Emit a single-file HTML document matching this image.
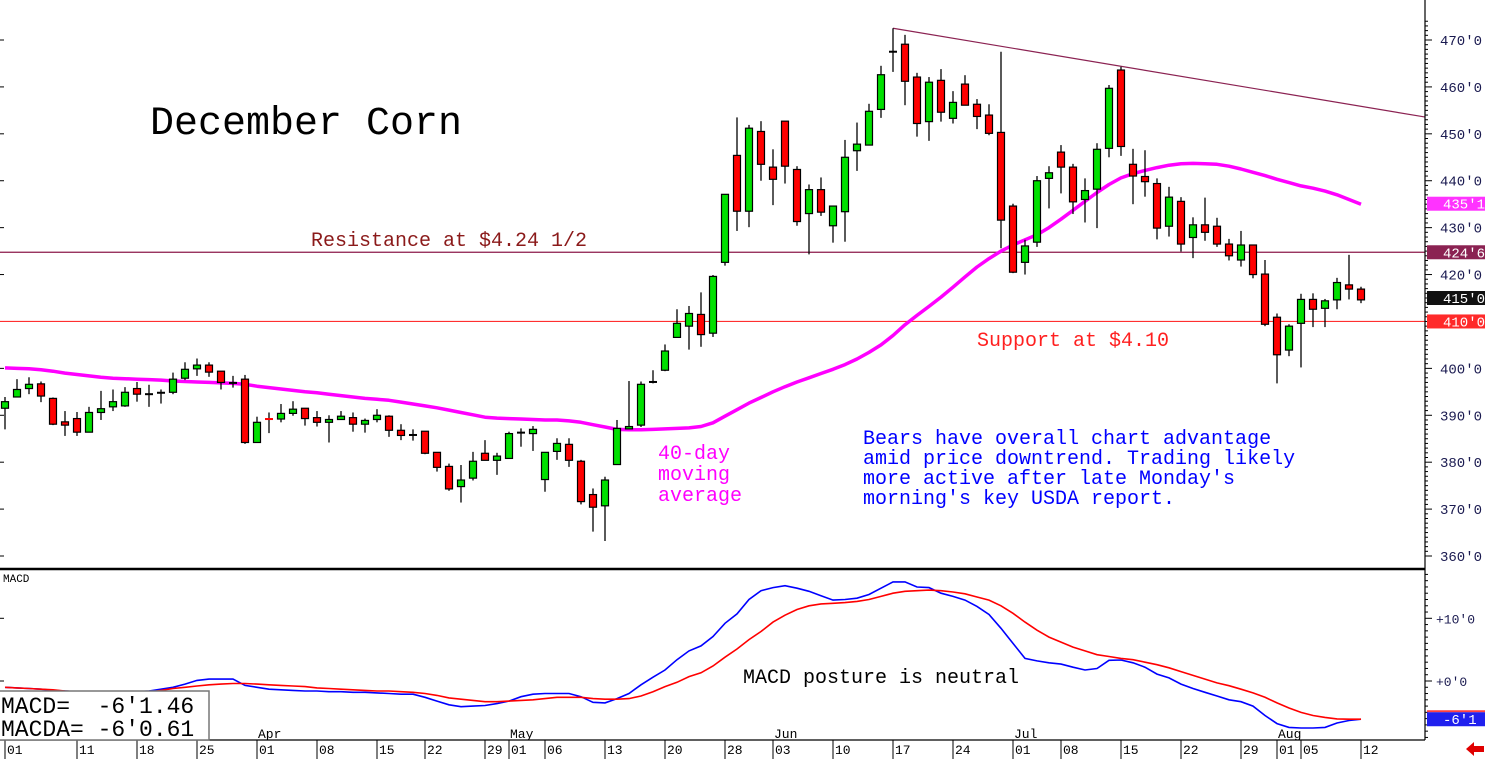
<!DOCTYPE html>
<html><head><meta charset="utf-8"><title>December Corn</title>
<style>
html,body{margin:0;padding:0;background:#fff;}
svg{display:block;}
text{font-family:"Liberation Mono","DejaVu Sans Mono",monospace;}
</style></head>
<body>
<svg id="chart" width="1487" height="759" viewBox="0 0 1487 759" xmlns="http://www.w3.org/2000/svg">
<rect x="0" y="0" width="1487" height="759" fill="#fff"/>
<g id="pricePanel"></g>
<g id="macdPanel"></g>
<g id="axes"></g>
<text x="150" y="134" font-size="40" fill="#000">December Corn</text>
<text x="311" y="246" font-size="20" fill="#8b1a1a">Resistance at $4.24 1/2</text>
<text x="977" y="346" font-size="20" fill="#ff2020">Support at $4.10</text>
<g font-size="20" fill="#ff00ff">
<text x="658" y="459">40-day</text><text x="658" y="480">moving</text><text x="658" y="501">average</text></g>
<g font-size="20" fill="#0000ff">
<text x="863" y="444">Bears have overall chart advantage</text>
<text x="863" y="464">amid price downtrend. Trading likely</text>
<text x="863" y="484">more active after late Monday's</text>
<text x="863" y="504">morning's key USDA report.</text></g>
<text x="743" y="683" font-size="20" fill="#000">MACD posture is neutral</text>
<text x="3" y="582" font-size="11" fill="#000">MACD</text>
<g>
<rect x="-1" y="691" width="210" height="49" fill="#fff" stroke="#777" stroke-width="1.5"/>
<text x="1" y="713" font-size="23" fill="#000" xml:space="preserve">MACD=  -6'1.46</text>
<text x="1" y="736" font-size="23" fill="#000">MACDA= -6'0.61</text></g>
<path d="M1466 749 L1474 742 L1474 746 L1484 746 L1484 752 L1474 752 L1474 756 Z" fill="#e00000"/>
</svg>
<script>
const opens=[391.5,393.9,395.7,396.7,393.6,388.6,389.3,386.4,390.6,391.8,392.0,395.7,394.5,394.8,394.9,397.9,399.9,400.7,399.4,396.9,397.7,384.2,389.3,389.2,390.4,391.5,389.5,388.5,389.1,389.5,388.1,389.1,389.8,386.8,385.8,386.6,382.1,379.1,374.8,376.6,381.9,380.4,380.8,386.3,386.1,376.3,382.3,383.8,380.2,373.1,370.7,379.5,387.1,387.9,397.1,399.6,406.6,409.0,411.5,407.5,422.6,445.4,433.5,450.5,442.9,452.7,442.4,433.0,438.1,430.4,433.4,446.4,447.6,455.2,467.5,469.1,462.1,452.6,461.4,453.3,460.6,456.3,454.0,450.3,434.6,422.6,426.9,440.5,446.1,442.9,436.0,438.2,446.9,463.6,443.5,440.9,439.4,430.3,435.6,427.9,430.6,430.3,426.5,423.1,426.3,420.1,410.9,403.9,409.6,414.7,412.8,414.6,417.8,416.9];
const highs=[393.9,397.7,398.1,397.2,393.8,390.9,390.7,391.8,395.2,395.5,396.0,397.1,396.5,395.5,399.1,401.3,402.1,401.3,399.4,398.4,398.6,389.7,390.6,392.4,393.0,391.5,390.9,390.0,390.9,390.6,389.3,391.3,390.0,388.1,387.0,386.6,382.1,379.7,379.4,382.2,384.7,382.0,386.5,387.2,387.7,382.1,385.1,385.1,380.5,374.4,376.9,389.0,397.3,397.2,399.6,405.1,412.6,413.3,416.2,419.9,437.1,453.5,451.9,452.7,446.7,452.7,443.1,439.2,440.7,434.7,448.7,452.4,456.4,464.5,472.5,471.1,463.0,462.1,463.8,459.1,462.5,457.4,456.3,467.5,435.1,427.4,441.0,443.1,447.6,443.6,440.5,448.0,460.4,464.3,446.8,446.5,440.5,438.7,436.5,432.2,436.4,432.1,427.6,429.3,426.3,423.1,411.7,409.4,415.9,416.0,414.8,419.3,424.2,417.4];
const lows=[387.0,393.9,394.5,392.8,387.9,385.6,385.6,386.4,389.0,390.9,391.8,392.9,391.8,392.5,394.5,397.5,398.4,398.2,395.5,395.9,383.9,384.2,386.2,388.5,389.9,387.8,387.6,384.2,389.1,386.5,386.3,388.5,385.4,384.7,384.6,381.7,378.0,373.9,371.4,376.1,380.4,377.3,380.8,383.3,382.4,373.7,380.5,379.0,371.0,365.2,363.2,379.5,387.1,387.5,396.8,399.4,406.6,404.0,404.6,406.7,421.9,429.3,430.1,440.0,434.8,439.4,430.4,424.3,432.5,426.8,427.0,442.1,447.6,453.4,463.2,456.1,449.4,448.5,452.6,452.2,456.1,451.0,449.7,425.6,420.3,420.0,425.9,434.1,437.3,432.9,431.1,429.9,445.0,445.3,435.0,436.6,427.5,428.1,424.9,423.5,427.2,425.9,423.0,421.7,419.2,409.0,396.8,402.6,400.2,408.8,408.8,412.6,414.7,413.9];
const closes=[392.9,395.5,396.6,394.1,388.1,387.9,386.4,390.6,391.4,392.9,394.9,394.5,394.5,394.8,397.7,399.8,400.7,399.2,397.0,396.9,384.2,388.5,389.1,390.4,391.3,389.3,388.5,389.1,389.8,388.1,388.9,390.0,386.8,385.7,385.8,381.9,378.9,374.3,376.2,380.2,380.4,381.3,386.1,386.3,387.0,382.1,384.0,380.4,371.6,370.4,376.2,387.2,387.6,396.6,397.1,403.7,409.6,411.7,407.2,419.6,437.1,433.5,451.2,443.5,440.3,443.1,431.3,438.1,433.3,434.6,445.0,447.8,454.8,462.6,467.5,461.2,452.2,461.0,454.6,456.7,456.1,453.7,450.1,431.6,420.5,426.1,440.0,441.7,442.9,435.5,437.9,446.7,459.7,447.3,441.0,439.8,429.9,436.5,426.5,430.6,429.0,426.5,424.0,426.3,420.0,409.4,402.9,409.0,414.7,412.6,414.4,418.3,416.9,414.6];
const ma40=[400.1,400.0,399.9,399.7,399.4,399.0,398.7,398.4,398.1,397.9,397.8,397.7,397.6,397.5,397.3,397.2,397.1,397.0,396.9,396.8,396.6,396.2,395.9,395.6,395.3,395.0,394.8,394.5,394.2,393.9,393.6,393.4,393.2,392.8,392.4,392.0,391.6,391.1,390.6,390.1,389.6,389.4,389.3,389.2,389.1,389.0,389.0,388.8,388.5,388.0,387.5,387.0,386.9,386.9,387.0,387.1,387.2,387.3,387.6,388.4,389.8,391.2,392.6,393.8,395.0,396.1,397.1,398.0,398.9,399.8,400.8,402.0,403.4,405.0,407.0,409.3,411.3,413.2,415.2,417.3,419.5,421.6,423.4,425.0,426.3,427.4,428.5,430.0,431.8,433.7,435.6,437.5,439.2,440.6,441.5,442.2,442.8,443.3,443.6,443.7,443.6,443.5,443.1,442.5,441.8,441.1,440.3,439.6,438.9,438.4,437.8,437.0,436.0,435.0];
const macdLine=[-1.0,-1.1,-1.2,-1.3,-1.5,-1.6,-1.7,-1.8,-1.8,-1.8,-1.8,-1.7,-1.6,-1.3,-1.0,-0.5,0.1,0.3,0.3,0.3,-0.7,-1.0,-1.3,-1.4,-1.5,-1.6,-1.6,-1.7,-1.7,-1.8,-1.8,-1.9,-2.0,-2.1,-2.1,-2.6,-3.2,-3.8,-4.1,-4.0,-3.9,-3.6,-3.2,-2.5,-2.1,-2.0,-2.0,-2.0,-2.5,-3.4,-3.5,-2.8,-2.0,-0.6,0.6,1.75,3.4,4.8,5.6,7.1,9.2,10.7,13.0,14.4,14.9,15.2,14.8,14.3,13.6,12.9,13.0,13.2,13.8,14.8,15.8,15.8,15.0,14.9,14.0,13.5,12.9,11.9,10.6,8.4,6.0,3.6,3.2,2.9,2.7,2.2,1.75,2.0,3.3,3.35,2.9,2.2,1.1,0.5,-0.5,-1.2,-1.8,-2.4,-3.0,-3.3,-4.0,-5.5,-6.8,-7.4,-7.5,-7.5,-7.4,-6.7,-6.3,-6.1];
const signalLine=[-1.0,-1.1,-1.2,-1.3,-1.4,-1.6,-1.7,-1.8,-1.9,-2.0,-2.0,-2.0,-1.8,-1.5,-1.2,-1.0,-0.8,-0.6,-0.5,-0.4,-0.4,-0.5,-0.6,-0.7,-0.8,-0.9,-1.1,-1.2,-1.3,-1.4,-1.5,-1.6,-1.6,-1.7,-1.8,-2.0,-2.3,-2.7,-2.9,-3.1,-3.3,-3.3,-3.2,-3.1,-3.0,-2.8,-2.6,-2.6,-2.6,-2.8,-2.9,-2.9,-2.8,-2.4,-1.7,-0.9,-0.2,0.7,1.3,2.4,3.8,5.1,6.6,7.9,9.4,10.5,11.4,12.0,12.3,12.4,12.5,12.7,13.0,13.5,14.0,14.3,14.4,14.5,14.4,14.2,13.9,13.4,12.9,12.0,10.8,9.4,8.1,7.0,6.2,5.4,4.8,4.2,3.9,3.6,3.4,3.0,2.6,2.1,1.5,0.9,0.3,-0.3,-0.75,-1.3,-1.9,-2.6,-3.5,-4.3,-5.0,-5.5,-5.8,-6.05,-6.1,-6.1];
const priceTicks=[470,460,450,440,430,420,400,390,380,370,360];
const priceTickLabels=["470'0","460'0","450'0","440'0","430'0","420'0","400'0","390'0","380'0","370'0","360'0"];
const macdTicks=[10,0];
const macdTickLabels=["+10'0","+0'0"];
const dateIdx=[0,6,11,16,21,26,31,35,40,42,45,50,55,60,64,69,74,79,84,88,93,98,103,106,108,113];
const dateLabels=["01","11","18","25","01","08","15","22","29","01","06","13","20","28","03","10","17","24","01","08","15","22","29","01","05","12"];
const monthIdx=[21,42,64,84,106];
const monthLabels=["Apr","May","Jun","Jul","Aug"];
const resistanceLevel=424.75, supportLevel=410.0, lastPrice=415.0, maLast=435.1, macdLast=-6.1;
const trendIdx=[74,118.3];
const trendPrice=[472.5,453.6];

const NS="http://www.w3.org/2000/svg";
const X=i=>5+12*i;
const Y=p=>40+(470-p)*4.691;
const YM=v=>681-v*6.27;
const AX=1425;
function mk(tag,attrs,parent){const e=document.createElementNS(NS,tag);for(const k in attrs)e.setAttribute(k,attrs[k]);parent.appendChild(e);return e;}
const pp=document.getElementById('pricePanel');
const mp=document.getElementById('macdPanel');
const ax=document.getElementById('axes');

let l=mk('line',{x1:0,x2:AX,y1:Y(resistanceLevel),y2:Y(resistanceLevel),stroke:'#8b1a4a','stroke-width':1.2},pp);


l=mk('line',{x1:0,x2:AX,y1:Y(supportLevel),y2:Y(supportLevel),stroke:'#ff3030','stroke-width':1.2},pp);


l=mk('line',{x1:X(trendIdx[0]),x2:X(trendIdx[1]),y1:Y(trendPrice[0]),y2:Y(trendPrice[1]),stroke:'#8b2252','stroke-width':1.2},pp);



let d=ma40.map((v,i)=>(i?'L':'M')+X(i)+' '+Y(v).toFixed(1)).join(' ');
l=mk('path',{d:d,fill:'none',stroke:'#ff00ff','stroke-width':3.5,'stroke-linejoin':'round'},pp);



for(let i=0;i<opens.length;i++){
  const g=mk('g',{},pp);
  
  
  const x=X(i),o=opens[i],c=closes[i],up=c>=o;
  mk('line',{x1:x,x2:x,y1:Y(highs[i]),y2:Y(lows[i]),stroke:'#000','stroke-width':1.3},g);
  const top=Y(Math.max(o,c)),bot=Y(Math.min(o,c));
  if(bot-top<2){
    mk('line',{x1:x-4,x2:x+4,y1:(top+bot)/2,y2:(top+bot)/2,stroke:Math.abs(c-o)<0.05?'#000':(up?'#00dd00':'#ff0000'),'stroke-width':2},g);
  } else {
    mk('rect',{x:x-3.5,y:top,width:7,height:bot-top,fill:up?'#00e000':'#ff0000',stroke:'#000','stroke-width':1.2},g);
  }
}

d=macdLine.map((v,i)=>(i?'L':'M')+X(i)+' '+YM(v).toFixed(1)).join(' ');
l=mk('path',{d:d,fill:'none',stroke:'#0000ff','stroke-width':1.6},mp);


d=signalLine.map((v,i)=>(i?'L':'M')+X(i)+' '+YM(v).toFixed(1)).join(' ');
l=mk('path',{d:d,fill:'none',stroke:'#ff0000','stroke-width':1.6},mp);



mk('line',{x1:AX,x2:AX,y1:0,y2:740,stroke:'#000','stroke-width':1.2},ax);
mk('line',{x1:0,x2:AX,y1:569,y2:569,stroke:'#000','stroke-width':2.5},ax);
mk('line',{x1:0,x2:AX,y1:740,y2:740,stroke:'#000','stroke-width':1.2},ax);
for(let p=360;p<=474;p+=1){const y=Y(p);if(y<2||y>566)continue;mk('line',{x1:AX,x2:AX+(p%10===0?7:3),y1:y,y2:y,stroke:'#000','stroke-width':1},ax);}
for(let k=0;k<priceTicks.length;k++){
  const y=Y(priceTicks[k]);
  mk('line',{x1:0,x2:4,y1:y,y2:y,stroke:'#000','stroke-width':1},ax);
  const t=mk('text',{x:1440,y:y+5,'font-size':14,fill:'#1a1a50'},ax);
  t.textContent=priceTickLabels[k];
  
  
}
for(let v=-9;v<=17;v+=1){const y=YM(v);if(y<572||y>738)continue;mk('line',{x1:AX,x2:AX+(v%10===0?7:3),y1:y,y2:y,stroke:'#000','stroke-width':1},ax);}
for(let k=0;k<macdTicks.length;k++){
  const y=YM(macdTicks[k]);
  mk('line',{x1:0,x2:4,y1:y,y2:y,stroke:'#000','stroke-width':1},ax);
  const t=mk('text',{x:1436,y:y+5,'font-size':13,fill:'#1a1a50'},ax);
  t.textContent=macdTickLabels[k];
  
  
}
function box(v,yf,fill,txt,name,tc){
  const g=mk('g',{},ax);
  
  
  const y=yf(v);
  mk('rect',{x:1427,y:y-7,width:58,height:14,fill:fill},g);
  const t=mk('text',{x:1443,y:y+5,'font-size':14,fill:tc||'#fff'},g);t.textContent=txt;
}
box(maLast,Y,'#ff33ff',"435'1",'ma-value-box');
box(resistanceLevel,Y,'#8b2252',"424'6",'resistance-value-box');
box(lastPrice,Y,'#111',"415'0",'last-price-box');
box(supportLevel,Y,'#ff2a2a',"410'0",'support-value-box');
mk('rect',{x:1427,y:YM(macdLast)-9,width:58,height:2,fill:'#ff4040'},ax);
box(macdLast,YM,'#2020ee',"-6'1",'macd-value-box');
for(let k=0;k<dateIdx.length;k++){
  const x=X(dateIdx[k]);
  mk('line',{x1:x,x2:x,y1:740,y2:759,stroke:'#000','stroke-width':1},ax);
  const t=mk('text',{x:x+2,y:754,'font-size':13,fill:'#000'},ax);
  t.textContent=dateLabels[k];
  
  
}
for(let k=0;k<monthIdx.length;k++){
  const t=mk('text',{x:X(monthIdx[k])+1,y:738,'font-size':13,fill:'#000'},ax);
  t.textContent=monthLabels[k];
  
  
}
</script>
</body></html>
